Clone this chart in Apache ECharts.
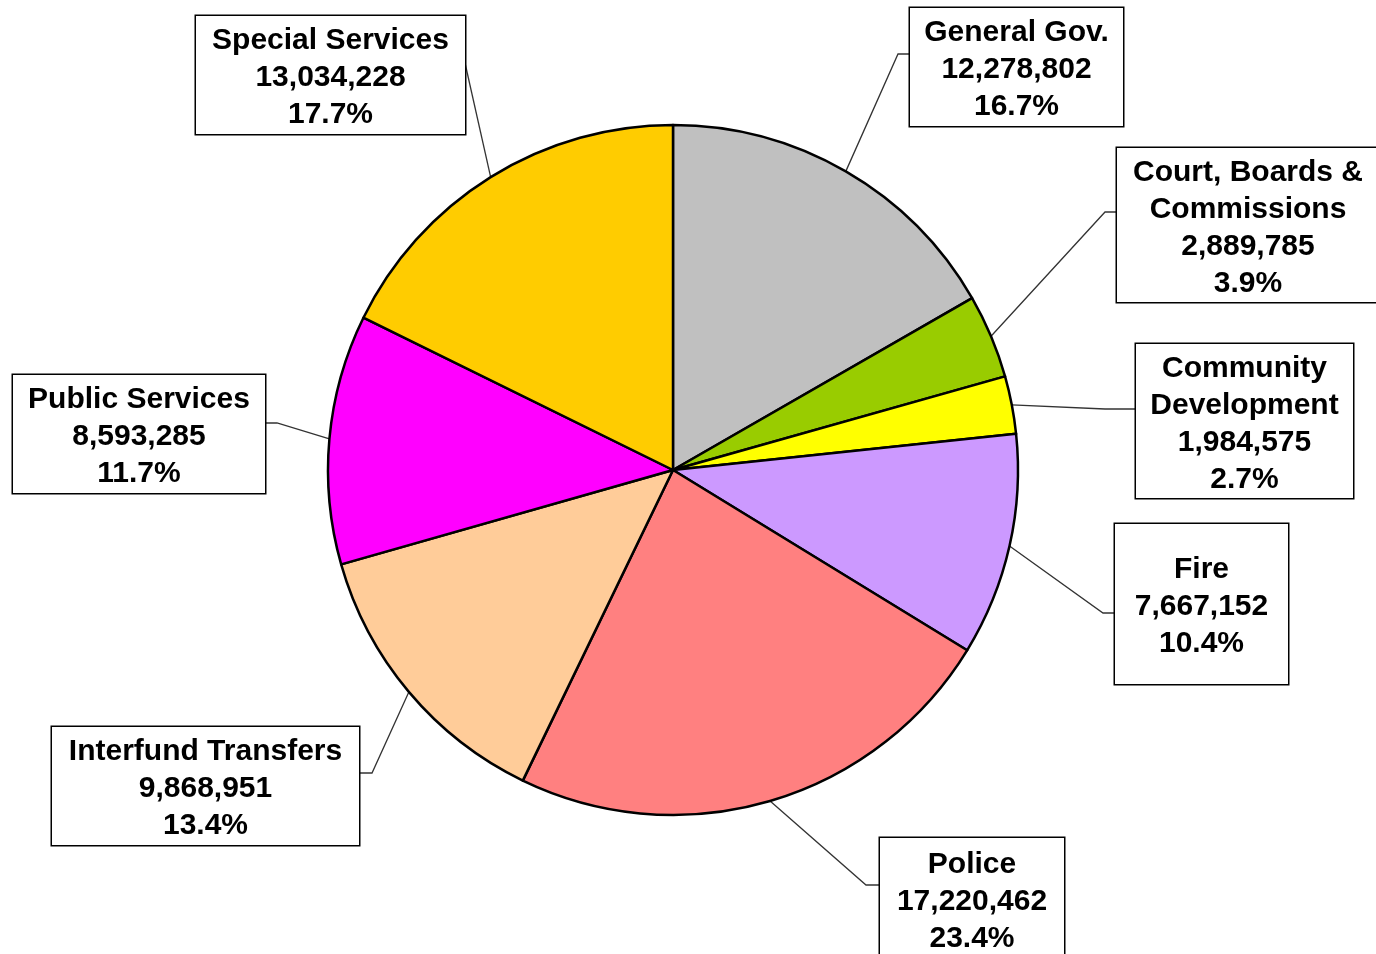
<!DOCTYPE html>
<html>
<head>
<meta charset="utf-8">
<script src="https://cdn.jsdelivr.net/npm/echarts@6/dist/echarts.min.js"></script>
<style>
  html, body { margin: 0; padding: 0; background: #ffffff; }
  #chart { width: 1376px; height: 954px; }
</style>
</head>
<body>
<div id="chart"></div>
<script>
// ---- data ----
const categories = [
  'General Gov.',
  'Court, Boards & Commissions',
  'Community Development',
  'Fire',
  'Police',
  'Interfund Transfers',
  'Public Services',
  'Special Services'
];
const labelTitles = [
  'General Gov.',
  'Court, Boards &\nCommissions',
  'Community\nDevelopment',
  'Fire',
  'Police',
  'Interfund Transfers',
  'Public Services',
  'Special Services'
];
const values = [12278802, 2889785, 1984575, 7667152, 17220462, 9868951, 8593285, 13034228];

// ---- styles ----
const colors = ['#C0C0C0', '#99CC00', '#FFFF00', '#CC99FF', '#FF8080', '#FFCC99', '#FF00FF', '#FFCC00'];
// label box layout: [centerX, centerY, width, height, leaderAttachDy, hookLength]
const labelBoxes = [
  [1016.5, 67, 213, 118, -13, 12],
  [1248, 225, 262, 154, -13, 12],
  [1244.5, 421, 217, 154, -12, 31],
  [1201.5, 604, 173, 160, 9, 12],
  [972, 899, 184, 122, -14, 14],
  [205.5, 786, 307, 118, -13, 13],
  [139, 434, 252, 118, -11, 12],
  [330.5, 75, 269, 118, -12, 0]
];
const LINE_H = 37;
const TEXT_SHIFT = 3;

const total = values.reduce((a, b) => a + b, 0);

const chart = echarts.init(document.getElementById('chart'), null, { renderer: 'canvas' });

const data = categories.map((name, i) => {
  const b = labelBoxes[i];
  const nLines = labelTitles[i].split('\n').length + 2;
  const padV = (b[3] - nLines * LINE_H) / 2;
  return {
    name: name,
    value: values[i],
    label: {
      width: b[2],
      padding: [padV + TEXT_SHIFT, 0, padV - TEXT_SHIFT, 0]
    }
  };
});

chart.setOption({
  backgroundColor: '#ffffff',
  animation: false,
  series: [{
    type: 'pie',
    center: [673, 470],
    radius: 345,
    startAngle: 90,
    clockwise: true,
    avoidLabelOverlap: false,
    color: colors,
    data: data,
    itemStyle: {
      borderColor: '#000000',
      borderWidth: 2.5
    },
    label: {
      show: true,
      position: 'outside',
      overflow: 'none',
      fontFamily: '"Liberation Sans", Arial, sans-serif',
      fontWeight: 'bold',
      fontSize: 30,
      lineHeight: LINE_H,
      color: '#000000',
      align: 'center',
      backgroundColor: '#ffffff',
      borderColor: '#000000',
      borderWidth: 1.5,
      formatter: function (p) {
        const i = p.dataIndex;
        const pct = (values[i] / total * 100).toFixed(1);
        return labelTitles[i] + '\n' + values[i].toLocaleString('en-US') + '\n' + pct + '%';
      }
    },
    labelLine: {
      show: true,
      length: 20,
      length2: 20,
      lineStyle: { color: '#333333', width: 1.3 }
    },
    labelLayout: function (p) {
      const b = labelBoxes[p.dataIndex];
      const left = b[0] - b[2] / 2;
      const right = b[0] + b[2] / 2;
      const res = { x: b[0], y: b[1] - b[3] / 2, align: 'center', verticalAlign: 'top' };
      if (p.labelLinePoints && p.labelLinePoints[0]) {
        const a = p.labelLinePoints[0];
        const ay = b[1] + b[4];
        const toRight = a[0] < b[0];
        const ex = toRight ? left : right;
        const hx = ex + (toRight ? -b[5] : b[5]);
        res.labelLinePoints = [[a[0], a[1]], [hx, ay], [ex, ay]];
      }
      return res;
    },
    emphasis: { disabled: true }
  }]
});
</script>
</body>
</html>
